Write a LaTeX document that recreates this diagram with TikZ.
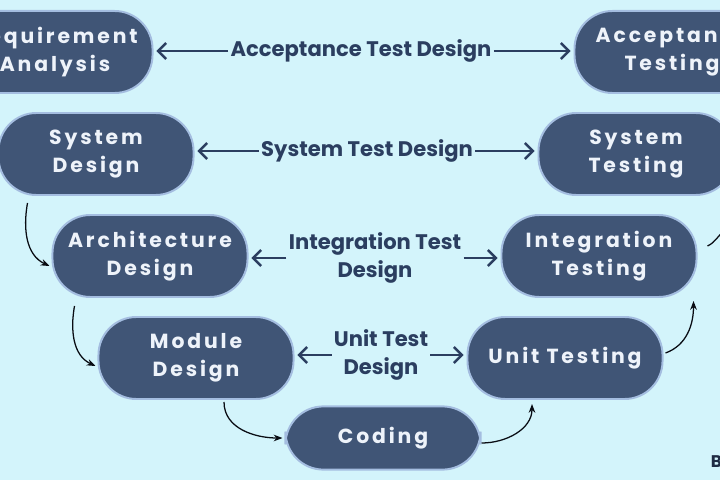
\documentclass[tikz,border=0pt]{standalone}
\usepackage{fontspec}
\setmainfont{Poppins}
\newfontfamily\boxfont{Poppins}[LetterSpace=14]
\usetikzlibrary{positioning,arrows.meta}
\definecolor{SkyBg}{HTML}{D3F4FB}
\definecolor{SlateBox}{HTML}{405576}
\definecolor{GlowEdge}{HTML}{A4BDE0}
\definecolor{InkNavy}{HTML}{2B3E60}
\definecolor{BoxText}{HTML}{EEF3FA}

\begin{document}
\begin{tikzpicture}[
  x=0.025cm, y=0.025cm,
  >={Stealth[length=2.2mm]},
  phase/.style={
    draw=GlowEdge, line width=1.4pt, fill=SlateBox, rounded corners=0.95cm,
    minimum width=4.875cm, minimum height=2.05cm, align=center, text=BoxText,
    font=\boxfont\bfseries\fontsize{14.5}{20}\selectfont
  },
  testlabel/.style={
    text=InkNavy, align=center, inner sep=1.5pt,
    font=\bfseries\fontsize{15}{20}\selectfont
  },
  link/.style={draw=InkNavy, line width=1.8pt, -{Straight Barb[length=2mm]}, shorten >=2pt},
  flow/.style={draw=black!80!InkNavy, line width=0.9pt, ->},
]

% ---------- Canvas ----------
\fill[SkyBg] (0,0) rectangle (720,480);
\useasboundingbox (0,0) rectangle (720,480);
\clip (0,0) rectangle (720,480);

% ---------- Left arm (design phases) ----------
\node[phase] (reqA) at (55,428)  {Requirement\\Analysis};
\node[phase] (sysD) at (96,326)  {System\\Design};
\node[phase] (arcD) at (150,224) {Architecture\\Design};
\node[phase] (modD) at (196,122) {Module\\Design};
% Bottom
\node[phase, minimum height=1.58cm] (cod) at (383,42) {Coding};
% ---------- Right arm (testing phases) ----------
\node[phase] (accT)  at (672,428) {Acceptance\\Testing};
\node[phase] (sysT)  at (636,326) {System\\Testing};
\node[phase] (intT)  at (599,224) {Integration\\Testing};
\node[phase] (unitT) at (565,122) {Unit Testing};

% ---------- Test design labels ----------
\node[testlabel] (atd) at (361,429) {Acceptance Test Design};
\node[testlabel] (std) at (367,329) {System Test Design};
\node[testlabel] (itd) at (375,222) {Integration Test\\Design};
\node[testlabel] (utd) at (381,125) {Unit Test\\Design};

\node[font=\bfseries\fontsize{12}{14}\selectfont, text=InkNavy!70!black, anchor=west] (brand) at (706,18) {B};

% ---------- Links between matching phases ----------
\foreach \l/\d/\t in {atd/reqA/accT, std/sysD/sysT, itd/arcD/intT, utd/modD/unitT} {
  \draw[link] (\l.west) -- (\l.west -| \d.east);
  \draw[link] (\l.east) -- (\l.east -| \t.west);
}

% ---------- V flow ----------
\coordinate (exit) at (726,250);
\draw[flow] ([shift={(30,-7)}]sysD.south west) to[out=260, in=155] ([shift={(-2,-10)}]arcD.west);
\draw[flow] ([shift={(23,-8)}]arcD.south west) to[out=260, in=155] ([shift={(-2,-8)}]modD.west);
\draw[flow] ([shift={(28,-2)}]modD.south) to[out=270, in=180] ([shift={(-2,0)}]cod.west);
\draw[flow] ([shift={(0,-5)}]cod.east) to[out=0, in=270] ([shift={(-33,-4)}]unitT.south);
\draw[flow] ([shift={(2,5)}]unitT.east) to[out=20, in=270] ([shift={(-4,-3)}]intT.south east);
\draw[flow, -] ([shift={(10,10)}]intT.east) to[out=25, in=210] (exit);

\end{tikzpicture}
\end{document}
